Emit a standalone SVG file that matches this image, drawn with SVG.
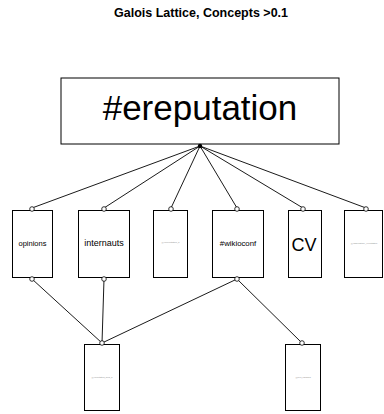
<svg xmlns="http://www.w3.org/2000/svg" width="384" height="414" viewBox="0 0 384 414">
<style>
.box{fill:#fff;stroke:#000;stroke-width:1}
.e{stroke:#000;stroke-width:0.9;fill:none}
.c{fill:#fff;stroke:#000;stroke-width:0.8}
text{font-family:"Liberation Sans",Arial,sans-serif;text-anchor:middle;fill:#000}
.tiny{font-size:2.2px;fill:#888}
</style>
<rect width="384" height="414" fill="#fff"/>
<text x="201" y="17" font-size="12.5" font-weight="bold">Galois Lattice, Concepts &gt;0.1</text>
<g id="connectors">
<line class="e" x1="200" y1="146" x2="32" y2="208"/>
<line class="e" x1="200" y1="146" x2="104" y2="208"/>
<line class="e" x1="200" y1="146" x2="171" y2="208"/>
<line class="e" x1="200" y1="146" x2="237" y2="208"/>
<line class="e" x1="200" y1="146" x2="303" y2="208"/>
<line class="e" x1="200" y1="146" x2="366" y2="208"/>
<line class="e" x1="32" y1="279" x2="102" y2="343"/>
<line class="e" x1="104" y1="279" x2="102" y2="343"/>
<line class="e" x1="237" y1="279" x2="102" y2="343"/>
<line class="e" x1="237" y1="279" x2="302" y2="343"/>
</g>
<g id="n-ereputation">
<rect class="box" x="61" y="78" width="278" height="66"/>
<text x="200" y="120" font-size="35">#ereputation</text>
<circle cx="200" cy="146" r="2.2" fill="#000"/>
</g>
<g id="n-opinions">
<rect class="box" x="12.5" y="210.5" width="40" height="67"/>
<text x="32.5" y="246" font-size="7.5">opinions</text>
<circle class="c" cx="32" cy="209" r="2.3"/>
<circle class="c" cx="32" cy="279" r="2.3"/>
</g>
<g id="n-internauts">
<rect class="box" x="78.5" y="210.5" width="51" height="67"/>
<text x="104" y="246" font-size="9">internauts</text>
<circle class="c" cx="104" cy="209" r="2.3"/>
<circle class="c" cx="104" cy="279" r="2.3"/>
</g>
<g id="n-user">
<rect class="box" x="153.5" y="210.5" width="34" height="67"/>
<text class="tiny" x="170.5" y="243">@ecoreputation_fr</text>
<circle class="c" cx="171" cy="209" r="2.3"/>
</g>
<g id="n-wikioconf">
<rect class="box" x="212.5" y="210.5" width="51" height="67"/>
<text x="238" y="246" font-size="7.8">#wikioconf</text>
<circle class="c" cx="237" cy="209" r="2.3"/>
<circle class="c" cx="237" cy="279" r="2.3"/>
</g>
<g id="n-cv">
<rect class="box" x="288.5" y="210.5" width="33" height="67"/>
<text x="304" y="251" font-size="18">CV</text>
<circle class="c" cx="303" cy="209" r="2.3"/>
</g>
<g id="n-last">
<rect class="box" x="344.5" y="210.5" width="38" height="67"/>
<text class="tiny" x="364" y="243.5">@observatoire_ereputation</text>
<circle class="c" cx="366" cy="209" r="2.3"/>
</g>
<g id="n-bottom1">
<rect class="box" x="84.5" y="344.5" width="35" height="66"/>
<text class="tiny" x="102" y="378">@ereputation_blog_fr</text>
<circle class="c" cx="102" cy="343" r="2.3"/>
</g>
<g id="n-bottom2">
<rect class="box" x="285.5" y="344.5" width="35" height="66"/>
<text class="tiny" x="303" y="378">@fred_cavazza</text>
<circle class="c" cx="302" cy="343" r="2.3"/>
</g>
</svg>
